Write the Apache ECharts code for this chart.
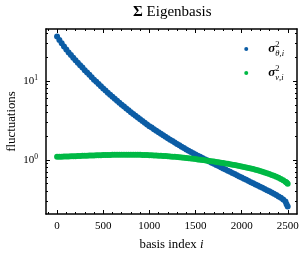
<!DOCTYPE html>
<html><head><meta charset="utf-8">
<script src="https://cdn.jsdelivr.net/npm/echarts@6/dist/echarts.min.js"></script>
<style>html,body{margin:0;padding:0;background:#fff}#c{width:305px;height:256px}</style>
</head><body><div id="c"></div>
<script>
const basisIndex = [0,25,50,75,100,125,150,175,200,225,250,275,300,325,350,375,400,425,450,475,500,525,550,575,600,625,650,675,700,725,750,775,800,825,850,875,900,925,950,975,1000,1025,1050,1075,1100,1125,1150,1175,1200,1225,1250,1275,1300,1325,1350,1375,1400,1425,1450,1475,1500,1525,1550,1575,1600,1625,1650,1675,1700,1725,1750,1775,1800,1825,1850,1875,1900,1925,1950,1975,2000,2025,2050,2075,2100,2125,2150,2175,2200,2225,2250,2275,2300,2325,2350,2375,2400,2425,2450,2475,2487,2499];
const sigmaTheta = [36.5,33.0,30.0,27.4,25.0,23.0,21.3,19.7,18.3,17.0,15.85,14.8,13.7,12.8,11.95,11.15,10.4,9.76,9.15,8.58,8.05,7.57,7.12,6.70,6.30,5.95,5.62,5.30,5.01,4.74,4.49,4.25,4.02,3.82,3.63,3.44,3.27,3.11,2.96,2.82,2.68,2.57,2.455,2.35,2.244,2.148,2.056,1.968,1.886,1.807,1.732,1.660,1.594,1.531,1.471,1.413,1.357,1.308,1.260,1.215,1.174,1.134,1.095,1.058,1.022,0.989,0.956,0.925,0.894,0.865,0.837,0.809,0.782,0.757,0.732,0.708,0.685,0.662,0.640,0.619,0.599,0.579,0.560,0.542,0.524,0.507,0.490,0.474,0.458,0.444,0.429,0.415,0.401,0.387,0.373,0.360,0.346,0.332,0.317,0.299,0.275,0.258];
const sigmaNu = [1.095,1.098,1.100,1.103,1.106,1.109,1.112,1.115,1.118,1.121,1.124,1.127,1.130,1.133,1.136,1.139,1.142,1.145,1.148,1.151,1.154,1.156,1.158,1.160,1.162,1.164,1.165,1.166,1.167,1.168,1.168,1.168,1.167,1.166,1.165,1.163,1.161,1.159,1.156,1.153,1.150,1.146,1.142,1.138,1.134,1.129,1.124,1.119,1.113,1.107,1.101,1.095,1.088,1.081,1.074,1.067,1.059,1.051,1.043,1.035,1.026,1.017,1.008,0.999,0.990,0.981,0.972,0.963,0.954,0.945,0.935,0.925,0.915,0.905,0.895,0.884,0.873,0.862,0.851,0.840,0.829,0.817,0.805,0.793,0.780,0.767,0.754,0.740,0.726,0.711,0.696,0.680,0.664,0.647,0.630,0.612,0.594,0.574,0.553,0.530,0.517,0.500];
const xMajorTicks = [0,500,1000,1500,2000,2500];
const xMinorTicks = [-100,100,200,300,400,600,700,800,900,1100,1200,1300,1400,1600,1700,1800,1900,2100,2200,2300,2400];
const yMajorTicks = [1,10];
const yMinorTicks = [0.3,0.4,0.5,0.6,0.7,0.8,0.9,2,3,4,5,6,7,8,9,20,30,40];
const seriesNames = ['theta','nu'];
const seriesColors = ['#0C5DA5','#00B945'];

const FONT = 'Liberation Serif';
const X_RANGE = {min:-120, max:2600};
const Y_RANGE = {min:0.207, max:45.5};

function xAxisDef(pos, ticks, len, showLine, labels){
  return Object.assign({type:'value', position:pos, splitLine:{show:false},
    axisLine:{show:showLine, onZero:false, lineStyle:{color:'#000', width:1.5}},
    axisTick:{show:true, inside:true, length:len, customValues:ticks, lineStyle:{color:'#000', width:1}},
    axisLabel:{show:!!labels, customValues:ticks, color:'#000', fontFamily:FONT, fontSize:11, margin:7,
      formatter:function(v){ return String(v); }}
  }, X_RANGE);
}
function yAxisDef(pos, ticks, len, showLine, labels){
  return Object.assign({type:'log', logBase:10, position:pos, splitLine:{show:false},
    axisLine:{show:showLine, onZero:false, lineStyle:{color:'#000', width:1.5}},
    axisTick:{show:true, inside:true, length:len, customValues:ticks, lineStyle:{color:'#000', width:1}},
    axisLabel:{show:!!labels, customValues:ticks, color:'#000', fontFamily:FONT, margin:8,
      formatter:function(v){ return '{b|10}{s|' + Math.round(Math.log10(v)) + '}'; },
      rich:{b:{fontFamily:FONT, fontSize:11, color:'#000', lineHeight:14}, s:{fontFamily:FONT, fontSize:7.5, color:'#000', verticalAlign:'top', lineHeight:8}}}
  }, Y_RANGE);
}

const xAxes = [
  Object.assign(xAxisDef('bottom', xMajorTicks, 4, true, true), {name:'{a|basis index }{i|i}', nameLocation:'middle', nameGap:24, nameMoveOverlap:false,
    nameTextStyle:{rich:{a:{fontFamily:FONT, fontSize:12.8, color:'#000'}, i:{fontFamily:FONT, fontSize:12.8, fontStyle:'italic', color:'#000'}}}}),
  xAxisDef('bottom', xMinorTicks, 2, false, false),
  xAxisDef('top', xMajorTicks, 4, true, false),
  xAxisDef('top', xMinorTicks, 2, false, false)
];
const yAxes = [
  Object.assign(yAxisDef('left', yMajorTicks, 4, true, true), {name:'fluctuations', nameLocation:'middle', nameGap:28, nameMoveOverlap:false,
    nameTextStyle:{fontFamily:FONT, fontSize:12.8, color:'#000'}}),
  yAxisDef('left', yMinorTicks, 2, false, false),
  yAxisDef('right', yMajorTicks, 4, true, false),
  yAxisDef('right', yMinorTicks, 2, false, false)
];

const chart = echarts.init(document.getElementById('c'), null, {renderer:'canvas'});
chart.setOption({
  animation:false,
  backgroundColor:'#fff',
  title:{text:'{b|Σ} Eigenbasis', left:133, top:5, padding:0,
    textStyle:{fontFamily:FONT, fontSize:15, fontWeight:'normal', color:'#000',
      rich:{b:{fontFamily:FONT, fontSize:15, fontWeight:'bold', color:'#000'}}}},
  grid:{left:46, top:29, right:8, bottom:42, containLabel:false, outerBoundsMode:'none'},
  legend:{right:16, top:35, orient:'vertical', icon:'circle', itemWidth:34, itemHeight:4, itemGap:6,
    data:seriesNames,
    formatter:function(n){ return n==='theta' ? '{s|σ}{p|2}{b|θ,i}' : '{s|σ}{p|2}{b|ν,i}'; },
    textStyle:{rich:{
      s:{fontFamily:FONT, fontSize:13, fontStyle:'italic', fontWeight:'bold', color:'#000', lineHeight:18},
      p:{fontFamily:FONT, fontSize:8.5, color:'#000', lineHeight:7, verticalAlign:'top', width:0.1},
      b:{fontFamily:FONT, fontSize:8.5, fontStyle:'italic', color:'#000', lineHeight:13, verticalAlign:'bottom'}
    }}},
  xAxis:xAxes,
  yAxis:yAxes,
  series:[
    {name:seriesNames[0], type:'scatter', xAxisIndex:0, yAxisIndex:0, symbolSize:6,
      itemStyle:{color:seriesColors[0], opacity:1}, data:basisIndex.map((x,k)=>[x, sigmaTheta[k]])},
    {name:seriesNames[1], type:'scatter', xAxisIndex:0, yAxisIndex:0, symbolSize:6,
      itemStyle:{color:seriesColors[1], opacity:1}, data:basisIndex.map((x,k)=>[x, sigmaNu[k]])}
  ]
});
</script></body></html>
